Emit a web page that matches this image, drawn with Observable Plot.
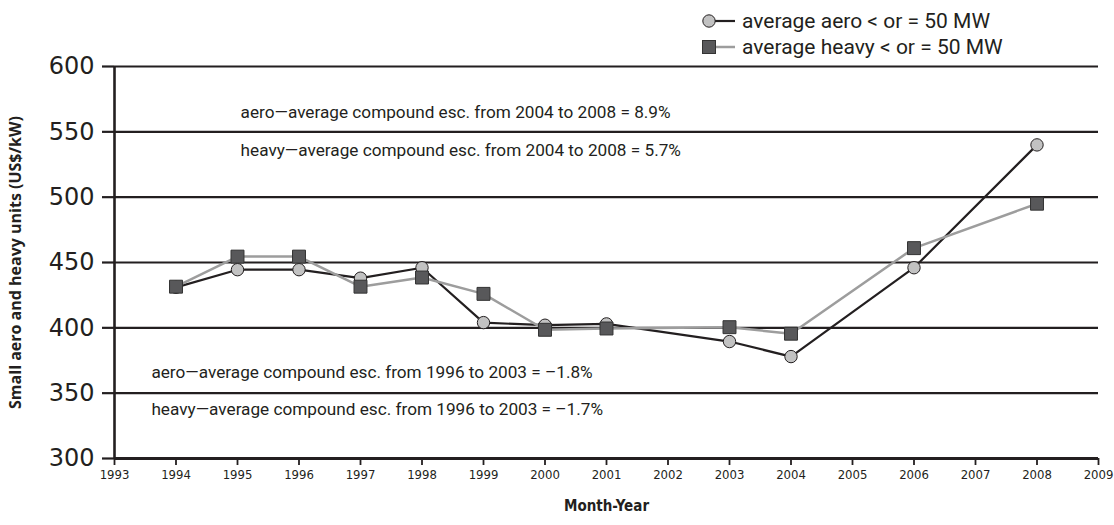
<!DOCTYPE html>
<html><head><meta charset="utf-8">
<script src="https://cdn.jsdelivr.net/npm/d3@7"></script>
<script src="https://cdn.jsdelivr.net/npm/@observablehq/plot@0.6"></script>
<style>
body{margin:0;background:#fff;}
#legend{position:relative;height:52px;width:1114px;font-family:Roboto,sans-serif;color:#231f20;}
.li{position:absolute;left:700px;display:flex;align-items:center;font-size:21px;white-space:nowrap;}
.li svg{margin-right:7px;}
</style></head><body>
<div id="legend"></div>
<div id="chart"></div>
<script>
const years = [1994,1995,1996,1997,1998,1999,2000,2001,2003,2004,2006,2008];
const aero = [431,444.5,444.5,438,446,404,402,403,389.5,378,446,540];
const heavy = [431.5,454.5,454.5,431.5,438.5,426,398.5,399.5,400.5,395.5,461,495];
const seriesNames = ["average aero < or = 50 MW","average heavy < or = 50 MW"];
const yTicks = [300,350,400,450,500,550,600];
const xTicks = [1993,1994,1995,1996,1997,1998,1999,2000,2001,2002,2003,2004,2005,2006,2007,2008,2009];
const noteTexts = [
  "aero\u2014average compound esc. from 2004 to 2008 = 8.9%",
  "heavy\u2014average compound esc. from 2004 to 2008 = 5.7%",
  "aero\u2014average compound esc. from 1996 to 2003 = \u20131.8%",
  "heavy\u2014average compound esc. from 1996 to 2003 = \u20131.7%"
];
const noteYears = [1995.05,1995.05,1993.6,1993.6];
const noteValues = [565,536,366,337.5];
const xTitle = "Month-Year";
const yTitle = "Small aero and heavy units (US$/kW)";

const INK = "#231f20";
const aeroData = years.map((y,i)=>({year:y, value:aero[i]}));
const heavyData = years.map((y,i)=>({year:y, value:heavy[i]}));
const notes = noteTexts.map((t,i)=>({text:t, year:noteYears[i], value:noteValues[i]}));

const chart = Plot.plot({
  width:1114, height:473,
  marginTop:14, marginBottom:67, marginLeft:114, marginRight:16,
  style:{fontFamily:"DejaVu Sans", color:INK, background:"#fff"},
  x:{domain:[1993,2009]},
  y:{domain:[300,600]},
  marks:[
    Plot.ruleY(yTicks.filter(v=>v>300), {stroke:INK, strokeWidth:2.2}),
    Plot.axisY({ticks:yTicks, tickSize:12, tickPadding:8, fontSize:24, label:null, stroke:INK, strokeWidth:2.2, fill:INK}),
    Plot.axisX({ticks:xTicks, tickSize:7, tickPadding:4, fontSize:13, fontFamily:"DejaVu Sans Condensed", tickFormat:d=>String(d), label:null, stroke:INK, strokeWidth:1.8, fill:INK}),
    Plot.ruleX([1993], {y1:300, y2:600, stroke:INK, strokeWidth:2.6}),
    Plot.ruleY([300], {stroke:INK, strokeWidth:3}),
    Plot.text(notes, {x:"year", y:"value", text:"text", textAnchor:"start", fontSize:17.2, fontFamily:"Roboto", fill:INK}),
    Plot.text([yTitle], {frameAnchor:"left", textAnchor:"middle", rotate:-90, dx:-99, fontSize:16, fontWeight:"bold", fontFamily:"Open Sans", fill:INK}),
    Plot.text([xTitle], {frameAnchor:"bottom", dy:52, fontSize:15, fontWeight:"bold", fontFamily:"DejaVu Sans Condensed", fill:INK}),
    Plot.line(aeroData, {x:"year", y:"value", stroke:INK, strokeWidth:2.2}),
    Plot.line(heavyData, {x:"year", y:"value", stroke:"#9d9d9d", strokeWidth:2.5}),
    Plot.dot(aeroData, {x:"year", y:"value", symbol:"circle", r:6.2, fill:"#c2c2c2", stroke:INK, strokeWidth:1}),
    Plot.dot(heavyData, {x:"year", y:"value", symbol:"square", r:7.3, fill:"#58585a", stroke:"#333", strokeWidth:1})
  ]
});
document.getElementById("chart").appendChild(chart);

const legend = document.getElementById("legend");
const tops = [21,47];
seriesNames.forEach((name,i)=>{
  const d = document.createElement("div");
  d.className = "li";
  d.style.top = (tops[i]-13)+"px";
  d.style.height = "26px";
  const marker = i===0
    ? `<svg width="35" height="16"><line x1="8" y1="8" x2="35" y2="8" stroke="${INK}" stroke-width="2.2"/><circle cx="9" cy="8" r="6.2" fill="#c2c2c2" stroke="${INK}"/></svg>`
    : `<svg width="35" height="16"><line x1="8" y1="8" x2="35" y2="8" stroke="#9d9d9d" stroke-width="2.5"/><rect x="2.5" y="1.5" width="13" height="13" fill="#58585a" stroke="#333"/></svg>`;
  d.innerHTML = marker + "<span></span>";
  d.querySelector("span").textContent = name;
  legend.appendChild(d);
});
</script>
</body></html>
